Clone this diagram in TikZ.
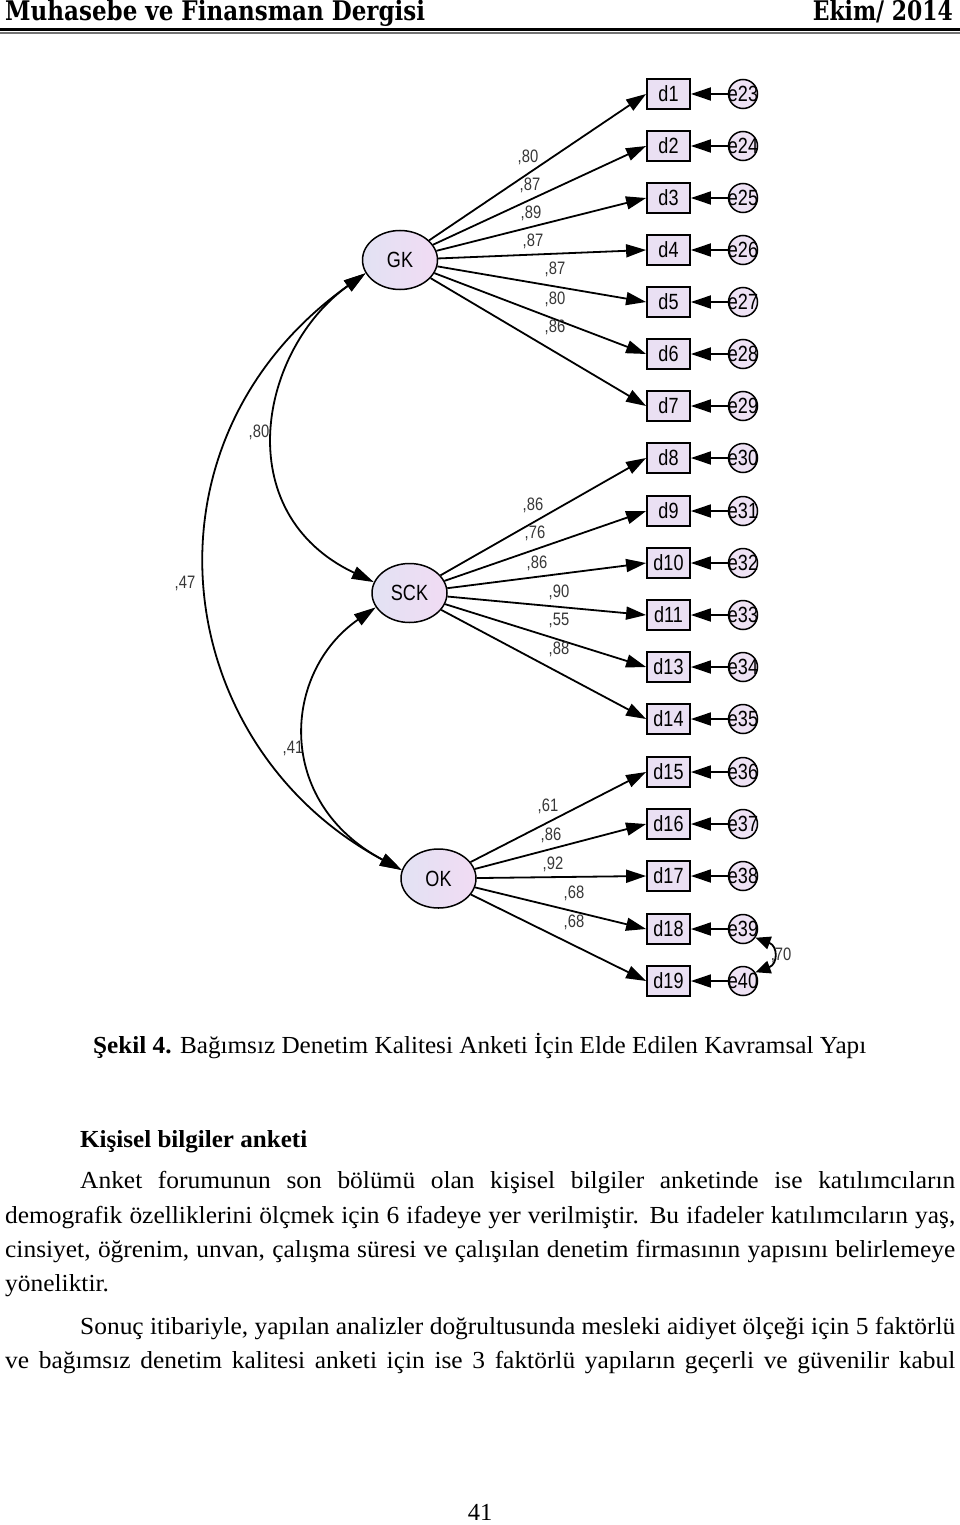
\documentclass[tikz,border=0pt]{standalone}
\usepackage{fontspec}
\setmainfont{Liberation Serif}
\newfontfamily\dfont[FakeStretch=0.82]{Liberation Sans}
\newfontfamily\hfont{DejaVu Serif}
\usetikzlibrary{arrows.meta,shapes.geometric}
\definecolor{latL}{RGB}{226,226,243}
\definecolor{latR}{RGB}{241,219,243}
\definecolor{boxfill}{RGB}{234,224,243}
\definecolor{efill}{RGB}{238,226,244}
\definecolor{lblgray}{RGB}{55,55,55}
\newsavebox\fitbox
\newlength\fitlen
\newlength\tmpw
\newcommand\bodyfont{\fontsize{24.5}{28}\selectfont}
\newcommand\fitw[2]{\sbox\fitbox{#2}\setlength\fitlen{\wd\fitbox}\pgfmathsetmacro\fitsx{#1/\fitlen}\scalebox{\fitsx}[1]{\usebox\fitbox}}
\newcommand\ratio[2]{\settowidth\tmpw{\bodyfont #2}\pgfmathsetmacro\rr{#1/\tmpw}\pgfmathsetmacro\fsx{min(\fsx,\rr)}}
\newcommand\jline[2]{\pgfmathsetmacro\wn{#1/\fsx}\scalebox{\fsx}[1]{\makebox[\wn pt][s]{#2}}}
\newcommand\La{Anket forumunun son bölümü olan kişisel bilgiler anketinde ise katılımcıların}
\newcommand\Lb{demografik özelliklerini ölçmek için 6 ifadeye yer verilmiştir. Bu ifadeler katılımcıların yaş,}
\newcommand\Lc{cinsiyet, öğrenim, unvan, çalışma süresi ve çalışılan denetim firmasının yapısını belirlemeye}
\newcommand\Le{Sonuç itibariyle, yapılan analizler doğrultusunda mesleki aidiyet ölçeği için 5 faktörlü}
\newcommand\Lf{ve bağımsız denetim kalitesi anketi için ise 3 faktörlü yapıların geçerli ve güvenilir kabul}
\tikzset{
  lat/.style={ellipse, draw, line width=1.5, minimum width=75, minimum height=59, inner sep=0,
    left color=latL, right color=latR, font=\dfont\fontsize{22}{22}\selectfont},
  dbox/.style={rectangle, draw, line width=1.8, minimum width=43, minimum height=30, inner sep=0,
    fill=boxfill, font=\dfont\fontsize{22}{22}\selectfont},
  enode/.style={circle, draw, line width=1.5, minimum size=29, inner sep=0,
    fill=efill, font=\dfont\fontsize{22}{22}\selectfont},
  ld/.style={-{Triangle[length=20pt,width=13pt]}, line width=1.8},
  cov/.style={{Triangle[length=22pt,width=13pt]}-{Triangle[length=22pt,width=13pt]}, line width=1.8},
  cove/.style={{Triangle[length=15pt,width=13pt]}-{Triangle[length=15pt,width=13pt]}, line width=1.8},
  lbl/.style={inner sep=0, text=lblgray, font=\dfont\fontsize{18}{18}\selectfont},
  txt/.style={inner sep=0, font=\bodyfont},
  hdr/.style={inner sep=0, font=\hfont\bfseries\fontsize{27}{27}\selectfont}
}
\begin{document}
\def\fsx{10}
\ratio{875}{\La}\ratio{950}{\Lb}\ratio{950}{\Lc}\ratio{875}{\Le}\ratio{950}{\Lf}
\begin{tikzpicture}[x=1pt,y=-1pt]
\fill[white] (0,0) rectangle (960,1525);
\useasboundingbox (0,0) rectangle (960,1525);
% header
\node[hdr, anchor=base west] (hdrL) at (5,21) {\fitw{420}{Muhasebe ve Finansman Dergisi}};
\node[hdr, anchor=base east] (hdrR) at (953,21) {\fitw{140}{Ekim/ 2014}};
\draw[line width=2.2] (0,29.5) -- (960,29.5);
\draw[line width=1.4, black!55] (0,33) -- (960,33);
% latent variables
\node[lat] (GK) at (400,260) {GK};
\node[lat] (SCK) at (409.5,593) {SCK};
\node[lat] (OK) at (438.5,878.5) {OK};
% indicators and errors
\foreach \n/\e/\yy in {1/23/94,2/24/146,3/25/198,4/26/250,5/27/302,6/28/354,7/29/406,8/30/458,9/31/511,10/32/563,11/33/615,13/34/667,14/35/719,15/36/772,16/37/824,17/38/876,18/39/929,19/40/981}{
  \node[dbox] (d\n) at (668.5,\yy) {d\n};
  \node[enode] (e\e) at (743,\yy) {\makebox[0pt]{e\e}};
}
\foreach \n/\e in {1/23,2/24,3/25,4/26,5/27,6/28,7/29,8/30,9/31,10/32,11/33,13/34,14/35,15/36,16/37,17/38,18/39,19/40}{
  \draw[ld] (e\e) -- (d\n);
}
\foreach \n in {1,...,7}{\draw[ld] (GK) -- (d\n.west);}
\foreach \n in {8,9,10,11,13,14}{\draw[ld] (SCK) -- (d\n.west);}
\foreach \n in {15,...,19}{\draw[ld] (OK) -- (d\n.west);}
% loading labels
\node[lbl] (l1) at (528,157) {,80};
\node[lbl] (l2) at (530,185) {,87};
\node[lbl] (l3) at (531,213) {,89};
\node[lbl] (l4) at (533,241) {,87};
\node[lbl] (l5) at (555,269) {,87};
\node[lbl] (l6) at (555,299) {,80};
\node[lbl] (l7) at (555,327) {,86};
\node[lbl] (l8) at (533,505) {,86};
\node[lbl] (l9) at (535,533) {,76};
\node[lbl] (l10) at (537,563) {,86};
\node[lbl] (l11) at (559,592) {,90};
\node[lbl] (l13) at (559,620) {,55};
\node[lbl] (l14) at (559,649) {,88};
\node[lbl] (l15) at (548,806) {,61};
\node[lbl] (l16) at (551,835) {,86};
\node[lbl] (l17) at (553,864) {,92};
\node[lbl] (l18) at (574,893) {,68};
\node[lbl] (l19) at (574,922) {,68};
% covariances
\node[lbl] (c1) at (259,432) {,80};
\node[lbl] (c2) at (185,583) {,47};
\node[lbl] (c3) at (293,748) {,41};
\node[lbl] (c4) at (781,955) {,70};
\draw[cov] (GK.201) .. controls (259.5,349.1) and (227.2,512.6) .. (SCK.163);
\draw[cov] (GK.201) .. controls (130,441) and (168.8,745.5) .. (OK.167);
\draw[cov] (SCK.203) .. controls (282.8,671.8) and (273.5,801.4) .. (OK.167);
\draw[cove] (e39.-35) .. controls (778,946) and (778,964) .. (e40.35);
% caption and text
\node[txt, anchor=base west] (cap) at (93,1053) {\fitw{773}{\textbf{Şekil 4.} Bağımsız Denetim Kalitesi Anketi İçin Elde Edilen Kavramsal Yapı}};
\node[txt, anchor=base west] (h1) at (80,1147) {\fitw{227}{\textbf{Kişisel bilgiler anketi}}};
\node[txt, anchor=base west] (p1) at (80,1188) {\jline{875}{\La}};
\node[txt, anchor=base west] (p2) at (5,1223) {\jline{950}{\Lb}};
\node[txt, anchor=base west] (p3) at (5,1257) {\jline{950}{\Lc}};
\node[txt, anchor=base west] (p4) at (5,1291) {\scalebox{\fsx}[1]{yöneliktir.}};
\node[txt, anchor=base west] (p5) at (80,1334) {\jline{875}{\Le}};
\node[txt, anchor=base west] (p6) at (5,1368) {\jline{950}{\Lf}};
\node[txt, anchor=base] (pg) at (480,1520) {41};
\end{tikzpicture}
\end{document}
